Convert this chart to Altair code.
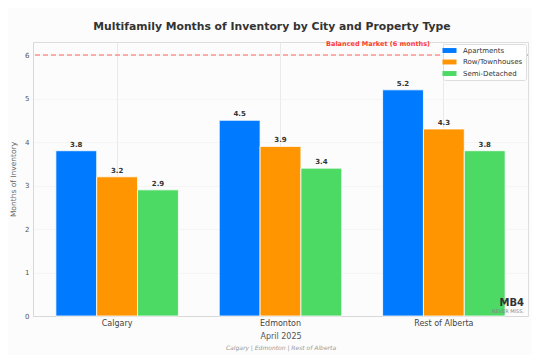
import altair as alt
import pandas as pd

cities = ["Calgary", "Edmonton", "Rest of Alberta"]
types = ["Apartments", "Row/Townhouses", "Semi-Detached"]
apartments = [3.8, 4.5, 5.2]
row_town = [3.2, 3.9, 4.3]
semi = [2.9, 3.4, 3.8]
colors = ["#007AFF", "#FF9500", "#4CD964"]
balanced = 6

rows = []
for series, vals in zip(types, [apartments, row_town, semi]):
    for c, v in zip(cities, vals):
        rows.append({"city": c, "type": series, "value": v, "label": f"{v:.1f}"})
df = pd.DataFrame(rows)

FONT = "DejaVu Sans"

x = alt.X("city:N", sort=cities,
          scale=alt.Scale(paddingInner=0.25, paddingOuter=0.14),
          axis=alt.Axis(title="April 2025", labelAngle=0, labelFontSize=8, labelColor="#444",
                        labelPadding=3, titleFontSize=8, titleColor="#555", titleFontWeight="normal",
                        titlePadding=5, ticks=False, grid=True, gridColor="#e4e4e4", gridWidth=0.8,
                        bandPosition=0.5, domainColor="#d8d8d8"))
xo = alt.XOffset("type:N", sort=types, scale=alt.Scale(paddingInner=0, paddingOuter=0))
y = alt.Y("value:Q", scale=alt.Scale(domain=[0, 6.3], nice=False),
          axis=alt.Axis(title="Months of Inventory", values=[0, 1, 2, 3, 4, 5, 6], labelFontSize=7,
                        labelColor="#555", ticks=False, labelPadding=4, titleFontSize=7.5,
                        titleColor="#666", titleFontWeight="normal", titlePadding=7,
                        gridColor="#f2f2f2", gridWidth=0.8, domainColor="#d8d8d8"))

bars = alt.Chart(df).mark_bar(stroke="white", strokeWidth=0.8).encode(
    x=x, xOffset=xo, y=y,
    color=alt.Color("type:N", sort=types, scale=alt.Scale(domain=types, range=colors),
                    legend=alt.Legend(title=None, orient="none", legendX=410, legendY=2,
                                      fillColor="white", strokeColor="#dddddd", padding=3,
                                      labelFontSize=7, labelColor="#333",
                                      symbolType="M-2,-0.7L2,-0.7L2,0.7L-2,0.7Z", symbolSize=49,
                                      symbolStrokeWidth=0, labelOffset=10, rowPadding=3.5,
                                      cornerRadius=2)),
)

labels = alt.Chart(df).mark_text(dy=-3, baseline="bottom", fontSize=7, fontWeight="bold",
                                 color="#333", font=FONT).encode(
    x=x, xOffset=xo, y=y, text="label:N")

rule = alt.Chart(pd.DataFrame({"value": [balanced]})).mark_rule(
    color="#ff3b30", strokeDash=[5, 3], strokeWidth=1.1, opacity=0.8).encode(y="value:Q")

one = pd.DataFrame({"a": [0]})
bal_text = alt.Chart(one).mark_text(text="Balanced Market (6 months)", fontSize=6.5, fontWeight="bold",
                                    color="#ff3b30", font=FONT, align="right", baseline="middle").encode(
    x=alt.value(397), y=alt.value(2))
title = alt.Chart(one).mark_text(text="Multifamily Months of Inventory by City and Property Type",
                                 fontSize=10.8, fontWeight="bold", color="#333", font=FONT,
                                 align="center", baseline="middle").encode(
    x=alt.value(239), y=alt.value(-15))
caption = alt.Chart(one).mark_text(text="Calgary | Edmonton | Rest of Alberta", fontSize=6,
                                   fontStyle="italic", color="#999", font=FONT,
                                   align="center", baseline="middle").encode(
    x=alt.value(248), y=alt.value(306))
mb4 = alt.Chart(one).mark_text(text="MB4", fontSize=10, fontWeight="bold", color="#333", font=FONT,
                               align="right", baseline="middle").encode(
    x=alt.value(491), y=alt.value(261))
never = alt.Chart(one).mark_text(text="NEVER MISS.", fontSize=5, color="#888", font=FONT,
                                 align="right", baseline="middle").encode(
    x=alt.value(491), y=alt.value(269))

chart = alt.layer(rule, bars, labels, bal_text, title, caption, mb4, never).properties(
    width=495, height=274,
    autosize=alt.AutoSizeParams(type="none"),
    padding={"left": 25, "top": 34, "right": 4, "bottom": 39},
    background="#fcfcfc",
).configure_view(stroke=None, fill="white").configure(font=FONT)

chart.save("out.html", embed_options={"renderer": "svg", "actions": False})
